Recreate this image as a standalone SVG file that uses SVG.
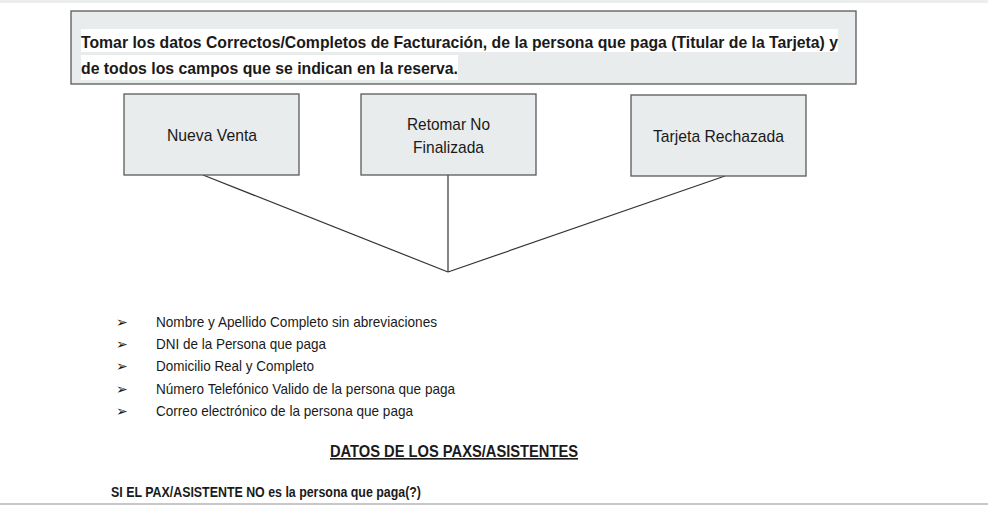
<svg xmlns="http://www.w3.org/2000/svg" width="988" height="507" viewBox="0 0 988 507">
<style>
.box{fill:#e9ecec;stroke:#5a5a5a;stroke-width:1.3}
.lbl{font-family:"Liberation Sans",Arial,sans-serif;font-size:17px;fill:#1a1a1a}
.hdr{font-family:"Liberation Sans",Arial,sans-serif;font-size:17px;font-weight:bold;fill:#1a1a1a}
.li{font-family:"Liberation Sans",Arial,sans-serif;font-size:15px;fill:#1a1a1a}
.ar{font-family:"DejaVu Sans",sans-serif;font-size:14px;fill:#1a1a1a}
.conn{stroke:#333;stroke-width:1.2;fill:none}
</style>
<rect x="0" y="0" width="988" height="507" fill="#ffffff"/>
<rect x="0" y="0" width="988" height="3" fill="#eceeee"/>
<rect x="0" y="503" width="988" height="2" fill="#c8c8c8"/>
<g id="header">
<rect class="box" x="71" y="11" width="785" height="73"/>
<rect x="81" y="29" width="757" height="23" fill="#ffffff"/>
<rect x="81" y="55" width="377" height="25" fill="#ffffff"/>
<text class="hdr" x="81" y="48" textLength="757" lengthAdjust="spacingAndGlyphs">Tomar los datos Correctos/Completos de Facturación, de la persona que paga (Titular de la Tarjeta) y</text>
<text class="hdr" x="81" y="74" textLength="377" lengthAdjust="spacingAndGlyphs">de todos los campos que se indican en la reserva.</text>
</g>
<g id="connectors">
<line class="conn" x1="203" y1="175" x2="448" y2="272"/>
<line class="conn" x1="448" y1="175" x2="448" y2="272"/>
<line class="conn" x1="725" y1="176" x2="448" y2="272"/>
</g>
<g id="nueva-venta">
<rect class="box" x="124" y="94" width="175" height="81"/>
<text class="lbl" x="167" y="141" textLength="90" lengthAdjust="spacingAndGlyphs">Nueva Venta</text>
</g>
<g id="retomar">
<rect class="box" x="361" y="94" width="175" height="81"/>
<text class="lbl" x="407" y="130" textLength="83" lengthAdjust="spacingAndGlyphs">Retomar No</text>
<text class="lbl" x="413" y="153" textLength="71" lengthAdjust="spacingAndGlyphs">Finalizada</text>
</g>
<g id="tarjeta">
<rect class="box" x="631" y="95" width="175" height="81"/>
<text class="lbl" x="653" y="142" textLength="131" lengthAdjust="spacingAndGlyphs">Tarjeta Rechazada</text>
</g>
<g id="list">
<text class="ar" x="116" y="327">➢</text>
<text class="li" x="156" y="327" textLength="281" lengthAdjust="spacingAndGlyphs">Nombre y Apellido Completo sin abreviaciones</text>
<text class="ar" x="116" y="349">➢</text>
<text class="li" x="156" y="349" textLength="170" lengthAdjust="spacingAndGlyphs">DNI de la Persona que paga</text>
<text class="ar" x="116" y="371">➢</text>
<text class="li" x="156" y="371" textLength="158" lengthAdjust="spacingAndGlyphs">Domicilio Real y Completo</text>
<text class="ar" x="116" y="394">➢</text>
<text class="li" x="156" y="394" textLength="299" lengthAdjust="spacingAndGlyphs">Número Telefónico Valido de la persona que paga</text>
<text class="ar" x="116" y="416">➢</text>
<text class="li" x="156" y="416" textLength="257" lengthAdjust="spacingAndGlyphs">Correo electrónico de la persona que paga</text>
</g>
<g id="section">
<text x="330" y="457" font-family="Liberation Sans,Arial,sans-serif" font-size="16" font-weight="bold" fill="#1a1a1a" text-decoration="underline" textLength="248" lengthAdjust="spacingAndGlyphs">DATOS DE LOS PAXS/ASISTENTES</text>
<text x="111" y="497" font-family="Liberation Sans,Arial,sans-serif" font-size="14" font-weight="bold" fill="#1a1a1a" textLength="310" lengthAdjust="spacingAndGlyphs">SI EL PAX/ASISTENTE NO es la persona que paga(?)</text>
</g>
</svg>
